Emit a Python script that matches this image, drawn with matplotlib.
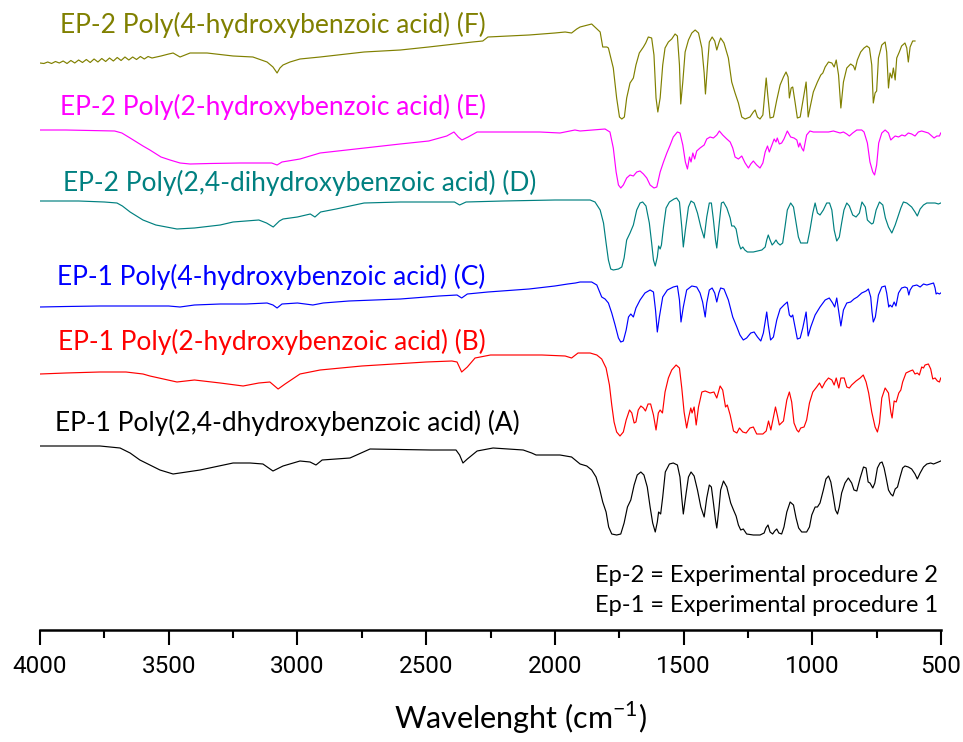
import numpy as np
import matplotlib
matplotlib.use("Agg")
import matplotlib.pyplot as plt
from matplotlib import font_manager
from matplotlib.ticker import MultipleLocator

# ---- spectra: (wavenumber cm-1, transmittance a.u., stacked) ----
spec_f = [
    (4000, 567), (3985, 566.5), (3970, 568), (3955, 566.5), (3940, 568.5), (3925, 567),
    (3910, 569), (3895, 566.5), (3880, 569.5), (3865, 567), (3850, 570), (3835, 567.5),
    (3820, 570.5), (3805, 567.5), (3790, 571), (3775, 568), (3760, 571.5), (3745, 568.5),
    (3730, 572), (3715, 569), (3700, 572.5), (3685, 569.5), (3670, 573), (3655, 570),
    (3640, 573), (3625, 570.5), (3610, 573.5), (3595, 571), (3580, 573.5), (3565, 572),
    (3530, 574), (3500, 576),
    (3483, 577), (3456, 573), (3417, 577), (3351, 577), (3250, 574), (3173, 573),
    (3118, 568), (3095, 563), (3079, 557), (3068, 562), (3056, 565), (3029, 568),
    (2990, 571), (2912, 573), (2741, 578), (2600, 580), (2490, 583), (2320, 588),
    (2280, 589), (2260, 593), (2100, 595), (2000, 597), (1960, 598), (1935, 597),
    (1915, 601), (1902, 603), (1857, 606), (1824, 598), (1814, 583), (1798, 583),
    (1792, 582), (1773, 562), (1760, 532), (1749, 513), (1740, 511), (1730, 513),
    (1721, 532), (1708, 547), (1695, 552), (1685, 565), (1672, 577), (1656, 583),
    (1647, 587), (1637, 593), (1624, 592), (1615, 575), (1607, 532), (1600, 518),
    (1591, 532), (1581, 565), (1572, 582), (1559, 588), (1546, 591), (1533, 596),
    (1524, 594), (1516, 565), (1511, 526), (1503, 548), (1494, 578), (1481, 590),
    (1468, 597), (1455, 600), (1442, 597), (1429, 582), (1420, 557), (1415, 536),
    (1407, 565), (1400, 588), (1389, 593), (1379, 589), (1371, 580), (1363, 587),
    (1356, 592), (1343, 587), (1326, 572), (1313, 548), (1300, 537), (1287, 527),
    (1274, 513), (1261, 511), (1242, 513), (1229, 518), (1222, 520), (1213, 513),
    (1203, 511), (1192, 515), (1179, 552), (1173, 535), (1164, 512), (1151, 513),
    (1138, 530), (1125, 545), (1112, 553), (1102, 558), (1094, 553), (1089, 532),
    (1082, 542), (1076, 543), (1067, 528), (1058, 512), (1047, 513), (1037, 528),
    (1024, 548), (1016, 513), (1009, 522), (996, 538), (980, 548), (967, 555),
    (959, 557), (950, 563), (937, 568), (924, 567), (915, 563), (907, 570),
    (898, 555), (889, 522), (879, 548), (866, 562), (851, 566), (840, 564),
    (834, 560), (825, 570), (812, 578), (799, 582), (788, 584), (778, 582),
    (769, 565), (763, 527), (756, 537), (750, 539), (743, 572), (730, 585),
    (717, 588), (711, 578), (704, 542), (698, 557), (691, 552), (685, 562),
    (678, 550), (672, 572), (662, 578), (653, 584), (640, 587), (633, 582),
    (627, 568), (620, 583), (610, 589), (601, 589),
]

spec_e = [
    (4000, 500), (3900, 500), (3800, 499.5), (3710, 499), (3682, 497), (3650, 492),
    (3600, 484), (3573, 480), (3530, 473), (3495, 470), (3456, 467), (3417, 466),
    (3340, 466.5), (3223, 467), (3150, 467), (3100, 467), (3079, 465), (3060, 468),
    (2990, 471), (2912, 477), (2741, 482), (2601, 486), (2490, 489), (2420, 494),
    (2392, 498), (2375, 493), (2361, 490), (2337, 493), (2302, 498), (2213, 498),
    (2058, 498), (1980, 497), (1922, 500), (1902, 499), (1805, 501), (1786, 498),
    (1773, 482), (1762, 458), (1753, 445), (1744, 442), (1734, 445), (1721, 452),
    (1708, 455), (1695, 454), (1682, 458), (1669, 459), (1656, 456), (1643, 452),
    (1630, 445), (1615, 442), (1604, 443), (1591, 458), (1578, 468), (1565, 477),
    (1552, 485), (1540, 493), (1524, 498), (1514, 497), (1503, 485), (1493, 468),
    (1485, 461), (1477, 473), (1471, 468), (1464, 477), (1457, 471), (1449, 479),
    (1436, 482), (1420, 485), (1410, 491), (1397, 493), (1384, 492), (1371, 495),
    (1361, 499), (1348, 495), (1332, 491), (1319, 488), (1309, 482), (1300, 473),
    (1287, 471), (1274, 474), (1261, 467), (1248, 462), (1239, 466), (1229, 469),
    (1216, 465), (1203, 462), (1192, 467), (1183, 478), (1174, 484), (1167, 478),
    (1157, 485), (1148, 491), (1141, 488), (1136, 492), (1128, 486), (1119, 487),
    (1110, 491), (1097, 499), (1084, 493), (1071, 492), (1060, 490), (1053, 483),
    (1048, 487), (1041, 482), (1034, 479), (1022, 495), (1009, 499), (996, 498),
    (976, 498), (957, 498), (937, 498), (918, 499), (905, 498), (892, 497),
    (879, 498), (866, 496), (856, 494), (843, 497), (827, 500), (808, 500),
    (799, 498), (786, 487), (776, 468), (765, 458), (758, 455), (750, 465),
    (742, 487), (730, 497), (717, 500), (704, 497), (695, 490), (687, 492),
    (678, 494), (665, 493), (652, 495), (640, 494), (627, 497), (614, 496),
    (601, 494), (588, 498), (575, 499), (562, 498), (549, 497), (536, 494),
    (527, 492), (516, 494), (506, 494), (501, 497),
]

spec_d = [
    (4000, 429), (3850, 429), (3750, 428), (3701, 427), (3680, 424), (3650, 418),
    (3600, 410), (3550, 405), (3468, 401), (3400, 402), (3300, 405), (3250, 408),
    (3150, 410), (3120, 407), (3094, 403), (3070, 409), (3056, 411), (3000, 413),
    (2950, 416), (2932, 413), (2910, 418), (2850, 421), (2741, 427), (2600, 428),
    (2500, 428), (2390, 428), (2370, 425), (2345, 428), (2200, 429), (2000, 430),
    (1902, 430), (1863, 430), (1844, 428), (1824, 420), (1811, 407), (1801, 387),
    (1792, 370), (1783, 361), (1773, 360), (1753, 361), (1740, 363), (1731, 372),
    (1721, 390), (1708, 397), (1695, 405), (1682, 420), (1669, 427), (1659, 428),
    (1646, 424), (1633, 407), (1624, 387), (1617, 370), (1610, 364), (1602, 373),
    (1597, 384), (1591, 381), (1586, 385), (1578, 403), (1568, 422), (1555, 428),
    (1537, 431), (1527, 432), (1516, 428), (1507, 403), (1501, 383), (1493, 400),
    (1481, 423), (1471, 429), (1459, 427), (1446, 417), (1433, 403), (1420, 392),
    (1410, 413), (1400, 427), (1392, 427), (1384, 410), (1376, 390), (1371, 382),
    (1363, 403), (1353, 427), (1345, 428), (1332, 422), (1319, 412), (1313, 404),
    (1304, 404), (1296, 401), (1286, 387), (1278, 381), (1270, 383), (1262, 380),
    (1252, 378), (1229, 378), (1196, 380), (1183, 383), (1177, 390), (1171, 395),
    (1164, 390), (1156, 385), (1149, 387), (1141, 390), (1134, 387), (1125, 385),
    (1115, 387), (1106, 403), (1097, 420), (1084, 427), (1073, 423), (1063, 407),
    (1054, 393), (1045, 387), (1028, 387), (1019, 387), (1009, 400), (998, 417),
    (989, 427), (980, 417), (970, 415), (957, 420), (944, 427), (933, 427),
    (924, 420), (915, 400), (905, 389), (895, 393), (886, 407), (877, 420),
    (866, 427), (856, 424), (843, 415), (830, 413), (817, 417), (807, 428),
    (794, 423), (786, 410), (778, 408), (769, 406), (763, 407), (752, 420),
    (739, 428), (726, 425), (716, 412), (704, 403), (691, 397), (678, 405),
    (669, 412), (656, 422), (646, 428), (633, 427), (614, 423), (601, 418),
    (592, 414), (581, 421), (568, 425), (555, 427), (536, 427), (523, 427),
    (510, 426), (501, 427),
]

spec_c = [
    (4000, 323), (3900, 323.5), (3767, 324), (3600, 324), (3500, 324), (3456, 323),
    (3400, 325), (3300, 326), (3200, 326), (3118, 327), (3095, 325), (3079, 322),
    (3060, 326), (3000, 327), (2940, 325), (2900, 327), (2800, 329), (2600, 331),
    (2450, 334), (2380, 335), (2362, 332), (2340, 336), (2260, 338), (2100, 341),
    (2000, 344), (1950, 346), (1920, 347), (1902, 348), (1857, 348), (1837, 345),
    (1818, 333), (1805, 331), (1792, 327), (1779, 317), (1766, 305), (1753, 292),
    (1744, 288), (1734, 289), (1723, 300), (1714, 313), (1705, 316), (1695, 313),
    (1685, 322), (1669, 330), (1650, 337), (1630, 340), (1617, 338), (1609, 320),
    (1602, 298), (1594, 313), (1581, 333), (1563, 340), (1540, 343), (1524, 344),
    (1516, 330), (1510, 308), (1501, 323), (1488, 340), (1468, 344), (1449, 343),
    (1436, 337), (1426, 328), (1416, 313), (1410, 327), (1400, 340), (1389, 342),
    (1379, 337), (1371, 328), (1363, 337), (1356, 342), (1343, 341), (1326, 330),
    (1309, 313), (1293, 303), (1281, 295), (1268, 290), (1255, 292), (1239, 297),
    (1226, 298), (1213, 293), (1200, 289), (1190, 297), (1177, 318), (1171, 305),
    (1162, 290), (1151, 293), (1138, 310), (1125, 321), (1110, 325), (1097, 328),
    (1089, 315), (1082, 313), (1076, 315), (1067, 303), (1058, 291), (1047, 292),
    (1037, 302), (1024, 318), (1016, 294), (1006, 303), (989, 315), (970, 323),
    (950, 330), (934, 332), (921, 327), (913, 323), (905, 332), (897, 318),
    (889, 304), (879, 320), (866, 327), (851, 328), (838, 331), (825, 333),
    (808, 337), (791, 339), (782, 341), (773, 333), (768, 318), (763, 308),
    (755, 313), (743, 335), (730, 343), (717, 344), (711, 337), (703, 323),
    (698, 325), (690, 323), (682, 328), (675, 324), (665, 337), (653, 342),
    (640, 343), (631, 342), (625, 335), (620, 340), (610, 344), (594, 345),
    (581, 343), (568, 346), (555, 345), (542, 346), (529, 347), (523, 342),
    (519, 336), (514, 337), (506, 336), (501, 337),
]

spec_b = [
    (4000, 256), (3900, 257), (3767, 258), (3666, 258), (3600, 256), (3573, 254),
    (3468, 248), (3400, 250), (3300, 247), (3211, 244), (3150, 247), (3107, 248),
    (3075, 241), (3048, 246), (2990, 256), (2912, 260), (2750, 264), (2500, 268),
    (2400, 269), (2380, 268), (2362, 258), (2340, 263), (2310, 272), (2250, 275),
    (2050, 275), (1960, 274), (1935, 272), (1910, 277), (1902, 277), (1863, 277),
    (1837, 275), (1818, 271), (1801, 262), (1788, 245), (1779, 225), (1770, 208),
    (1760, 198), (1747, 194), (1734, 198), (1723, 210), (1710, 220), (1701, 217),
    (1692, 207), (1685, 208), (1676, 220), (1666, 224), (1656, 222), (1648, 219),
    (1638, 226), (1628, 226), (1617, 215), (1607, 200), (1598, 217), (1591, 220),
    (1582, 217), (1572, 238), (1559, 252), (1546, 260), (1529, 265), (1516, 262),
    (1507, 242), (1498, 218), (1488, 202), (1480, 213), (1472, 222), (1467, 217),
    (1459, 223), (1451, 205), (1442, 223), (1429, 238), (1416, 239), (1397, 237),
    (1382, 238), (1371, 232), (1358, 244), (1348, 240), (1337, 223), (1330, 225),
    (1319, 215), (1306, 199), (1293, 197), (1283, 202), (1270, 198), (1257, 197),
    (1242, 202), (1229, 203), (1216, 196), (1192, 196), (1179, 199), (1170, 209),
    (1161, 200), (1151, 213), (1143, 223), (1136, 215), (1128, 205), (1112, 209),
    (1099, 230), (1089, 238), (1080, 228), (1071, 207), (1060, 200), (1053, 198),
    (1045, 202), (1032, 203), (1022, 210), (1011, 227), (998, 238), (983, 243),
    (972, 247), (962, 242), (950, 248), (937, 252), (924, 250), (915, 245),
    (907, 252), (897, 242), (889, 252), (876, 252), (866, 243), (856, 242),
    (847, 245), (830, 249), (814, 252), (802, 255), (791, 248), (781, 237),
    (769, 218), (756, 203), (747, 198), (739, 207), (730, 232), (717, 242),
    (704, 237), (695, 218), (690, 212), (682, 229), (674, 228), (664, 237),
    (656, 240), (649, 248), (636, 257), (620, 259), (610, 260), (601, 256),
    (592, 257), (584, 255), (575, 263), (568, 262), (562, 265), (549, 266),
    (540, 261), (532, 251), (523, 252), (514, 249), (506, 248), (501, 252),
]

spec_a = [
    (4000, 184), (3767, 184), (3689, 182), (3650, 177), (3612, 170), (3534, 160),
    (3483, 156), (3378, 160), (3250, 167), (3184, 167), (3134, 166), (3095, 159),
    (3056, 164), (2990, 169), (2951, 168), (2928, 165), (2904, 170), (2796, 172),
    (2718, 181), (2481, 180), (2384, 180), (2370, 175), (2357, 167), (2340, 171),
    (2302, 179), (2240, 182), (2123, 180), (2090, 177), (2073, 175), (1980, 175),
    (1935, 173), (1902, 166), (1876, 164), (1857, 160), (1840, 153), (1827, 142),
    (1814, 128), (1801, 118), (1791, 103), (1779, 96), (1760, 95), (1744, 96),
    (1731, 107), (1718, 123), (1705, 130), (1692, 145), (1680, 155), (1666, 158),
    (1654, 155), (1641, 143), (1630, 123), (1620, 107), (1610, 98), (1602, 108),
    (1597, 118), (1589, 116), (1581, 133), (1571, 158), (1555, 166), (1540, 167),
    (1524, 165), (1514, 153), (1507, 132), (1501, 116), (1490, 137), (1481, 153),
    (1471, 158), (1459, 154), (1446, 140), (1433, 123), (1420, 113), (1410, 132),
    (1400, 145), (1392, 143), (1384, 127), (1376, 110), (1371, 102), (1363, 120),
    (1356, 140), (1345, 149), (1332, 143), (1317, 127), (1306, 120), (1296, 114),
    (1287, 105), (1278, 100), (1268, 101), (1255, 96), (1229, 95), (1203, 95),
    (1187, 97), (1180, 102), (1172, 105), (1164, 98), (1154, 96), (1146, 99),
    (1138, 101), (1130, 97), (1119, 96), (1110, 103), (1099, 118), (1086, 128),
    (1073, 125), (1063, 112), (1053, 102), (1041, 98), (1022, 98), (1011, 103),
    (1002, 115), (989, 123), (980, 123), (970, 127), (957, 140), (947, 151),
    (937, 154), (928, 148), (918, 133), (910, 120), (902, 116), (895, 123),
    (886, 137), (873, 147), (860, 152), (847, 147), (838, 140), (827, 139),
    (814, 152), (801, 163), (791, 162), (783, 148), (776, 147), (765, 142),
    (757, 147), (747, 162), (737, 167), (729, 168), (721, 162), (713, 152),
    (704, 140), (695, 136), (687, 134), (678, 141), (669, 143), (659, 153),
    (649, 162), (640, 164), (627, 163), (614, 161), (601, 156), (592, 151),
    (581, 157), (568, 163), (555, 166), (540, 167), (529, 166), (519, 167),
    (510, 168), (501, 169),
]

spectra = [spec_a, spec_b, spec_c, spec_d, spec_e, spec_f]
labels = [
    "EP-1 Poly(2,4-dhydroxybenzoic acid) (A)",
    "EP-1 Poly(2-hydroxybenzoic acid) (B)",
    "EP-1 Poly(4-hydroxybenzoic acid) (C)",
    "EP-2 Poly(2,4-dihydroxybenzoic acid) (D)",
    "EP-2 Poly(2-hydroxybenzoic acid) (E)",
    "EP-2 Poly(4-hydroxybenzoic acid) (F)",
]
colors = ["#000000", "#FF0000", "#0000FF", "#008080", "#FF00FF", "#808000"]
# label anchor (left x in cm-1, centre y in a.u.)
label_pos = [(3942, 207), (3930, 288), (3934, 353), (3911, 447), (3922, 523), (3922, 605)]

notes = ["Ep-2 = Experimental procedure 2", "Ep-1 = Experimental procedure 1"]
note_y = [55, 25]
x_ticks = [4000, 3500, 3000, 2500, 2000, 1500, 1000, 500]


def narrow_font():
    """condensed face for the tick numbers if installed, else Roboto a bit smaller"""
    for f in font_manager.fontManager.ttflist:
        if f.name in ("Liberation Sans Narrow", "Arial Narrow") and f.style == "normal" \
                and f.weight in (400, "normal", "regular"):
            return font_manager.FontProperties(fname=f.fname), 21
    return font_manager.FontProperties(family=["Roboto", "DejaVu Sans"]), 17.5


plt.rcParams["font.family"] = ["Lato", "DejaVu Sans"]
plt.rcParams["mathtext.fontset"] = "custom"
plt.rcParams["mathtext.rm"] = "Lato"

fig = plt.figure(figsize=(9.63, 7.42), dpi=100)
ax = fig.add_axes([40 / 963, 112 / 742, 901 / 963, 630 / 742])

for spec, lab, col, (lx, ly) in zip(spectra, labels, colors, label_pos):
    arr = np.array(spec, dtype=float)
    ax.plot(arr[:, 0], arr[:, 1], color=col, lw=0.85)
    ax.text(lx, ly, lab, color=col, fontsize=19, ha="left", va="center")

for txt, ny in zip(notes, note_y):
    ax.text(511, ny, txt, color="black", fontsize=17, ha="right", va="center")

ax.set_xlim(4000, 500)
ax.set_ylim(0, 630)
for side in ["top", "left", "right"]:
    ax.spines[side].set_visible(False)
ax.spines["bottom"].set_linewidth(1.8)
ax.set_yticks([])
ax.set_xticks(x_ticks)
ax.xaxis.set_minor_locator(MultipleLocator(250))
ax.tick_params(axis="x", which="major", direction="out", length=11, width=1.5, pad=7)
ax.tick_params(axis="x", which="minor", direction="out", length=6, width=1.5)
tick_prop, tick_size = narrow_font()
for lbl in ax.get_xticklabels():
    lbl.set_fontproperties(tick_prop)
    lbl.set_fontsize(tick_size)

fig.text(520 / 963, 1 - 718 / 742, r"Wavelenght (cm$^{-1}$)", fontsize=22,
         ha="center", va="center")

fig.savefig("out.png", dpi=100)
